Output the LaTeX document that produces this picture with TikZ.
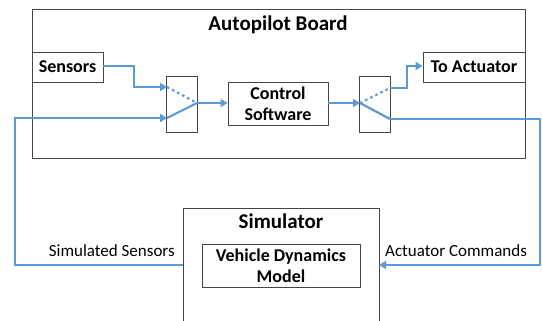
\documentclass[tikz,border=0pt]{standalone}
\usepackage{fontspec}
\setmainfont{Carlito}
\usetikzlibrary{arrows.meta}
\definecolor{wire}{RGB}{91,155,213}
\definecolor{edge}{RGB}{70,70,70}
\tikzset{
  box/.style={draw=edge, line width=0.8pt, rectangle, inner sep=0pt, align=center},
  lbl/.style={font=\fontsize{18}{21}\selectfont\bfseries},
  ttl/.style={font=\fontsize{21}{25}\selectfont\bfseries, inner sep=0pt},
  plain/.style={font=\fontsize{17}{20}\selectfont, inner sep=0pt},
  wireline/.style={draw=wire, line width=2.2pt},
  wirearrow/.style={wireline, -{Triangle[length=7pt,width=8pt]}},
  wiredot/.style={draw=wire, line width=2.2pt, dash pattern=on 2.5pt off 3.2pt}
}
\begin{document}
\begin{tikzpicture}[x=1pt,y=-1pt]
\clip (0,0) rectangle (542,321);
\fill[white] (0,0) rectangle (542,321);
% boxes
\node[box, minimum width=493pt, minimum height=149pt] (board) at (278.5,83.5) {};
\node[ttl, anchor=base] (boardt) at (278,31) {Autopilot Board};
\node[box, lbl, minimum width=71pt, minimum height=30pt] (sensors) at (67.5,67) {Sensors};
\node[box, minimum width=31pt, minimum height=56pt] (sw1) at (181.5,104) {};
\node[box, lbl, minimum width=100pt, minimum height=43pt] (ctrl) at (278,103.5) {Control\\Software};
\node[box, minimum width=31pt, minimum height=56pt] (sw2) at (374.5,104) {};
\node[box, lbl, minimum width=102pt, minimum height=30pt] (act) at (474,67) {To Actuator};
\node[box, minimum width=196pt, minimum height=140pt] (sim) at (281,278) {};
\node[ttl, anchor=base] (simt) at (281,229) {Simulator};
\node[box, lbl, minimum width=158pt, minimum height=43pt] (vdm) at (281,265.5) {Vehicle Dynamics\\Model};
% switch contacts
\coordinate (s1a) at (167,87);
\coordinate (s1b) at (167,118);
\coordinate (s1o) at (197,103);
\coordinate (s2i) at (360,103);
\coordinate (s2a) at (390,88);
\coordinate (s2b) at (390,119);
\coordinate (simw) at (183,265);
\coordinate (sime) at (379,265);
% wires
\draw[wirearrow] (sensors.east |- 0,66) -- (134,66) -- (134,87) -- (s1a);
\draw[wiredot] (s1a) -- (s1o);
\draw[wirearrow] (simw) -- (15,265) -- (15,118) -- (s1b);
\draw[wireline] (s1b) -- (s1o);
\draw[wirearrow] (s1o) -- (ctrl.west |- s1o);
\draw[wirearrow] (ctrl.east |- s2i) -- (s2i);
\draw[wiredot] (s2i) -- (s2a);
\draw[wirearrow] (s2a) -- (407,88) -- (407,66) -- (act.west |- 0,66);
\draw[wireline] (s2i) -- (s2b);
\draw[wirearrow] (s2b) -- (540,119) -- (540,265) -- (sime);
% labels
\node[plain, anchor=base east] (lss) at (175,257) {Simulated Sensors};
\node[plain, anchor=base west] (lac) at (385,256) {Actuator Commands};
\end{tikzpicture}
\end{document}
